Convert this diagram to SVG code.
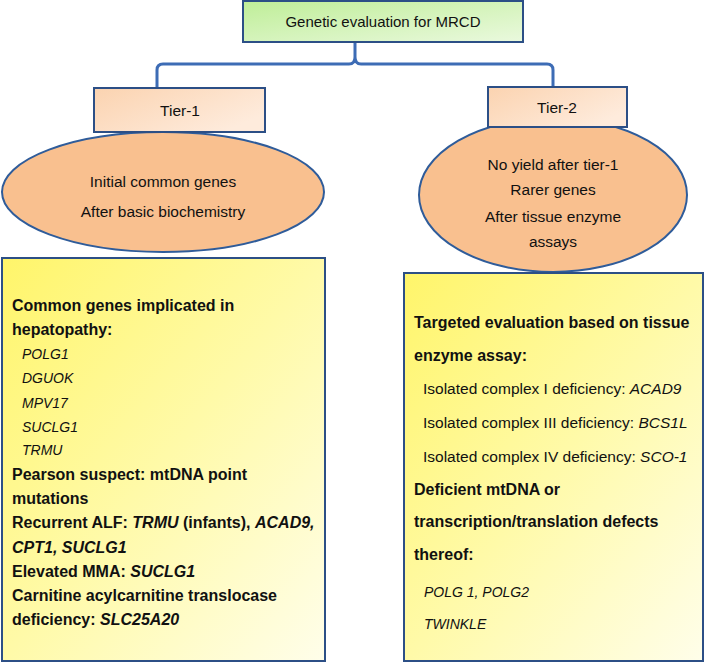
<svg xmlns="http://www.w3.org/2000/svg" width="708" height="664" viewBox="0 0 708 664">
<defs>
<linearGradient id="gGreen" x1="0" y1="0" x2="1" y2="1"><stop offset="0" stop-color="#bfee98"/><stop offset="1" stop-color="#eaf9de"/></linearGradient>
<linearGradient id="gPeach" x1="0" y1="0" x2="1" y2="0.6"><stop offset="0" stop-color="#fbd3b0"/><stop offset="1" stop-color="#feebdc"/></linearGradient>
<linearGradient id="gYellow" x1="0" y1="0" x2="1" y2="1"><stop offset="0" stop-color="#fff56a"/><stop offset="0.5" stop-color="#fffaa8"/><stop offset="1" stop-color="#fffeea"/></linearGradient>
<style>
.box{stroke:#2c4f86;stroke-width:2}
.ell{fill:#f9c08f;stroke:#2f5c9a;stroke-width:2}
.t{font-family:"Liberation Sans",Arial,sans-serif;font-size:15.5px;fill:#111}
.c{text-anchor:middle}
.b{font-family:"Liberation Sans",Arial,sans-serif;font-size:16px;font-weight:bold;fill:#111}
.i{font-style:italic}
.gi{font-family:"Liberation Sans",Arial,sans-serif;font-size:14px;font-style:italic;fill:#111}
.conn{fill:none;stroke:#3d6cb5;stroke-width:3;stroke-linejoin:round}
</style>
</defs>
<g id="connectors">
<path class="conn" d="M157,88 V70 Q157,64 163,64 H349 Q355,64 355,57 Q355,64 361,64 H547 Q553,64 553,70 V88 M355,57 V42"/>
</g>
<g id="root">
<rect class="box" x="243" y="1" width="280" height="41" fill="url(#gGreen)"/>
<text class="t c" x="383" y="27" style="font-size:15px">Genetic evaluation for MRCD</text>
</g>
<g id="tier1">
<ellipse class="ell" cx="163" cy="192" rx="161" ry="60"/>
<rect class="box" x="94" y="88" width="171" height="44" fill="url(#gPeach)"/>
<text class="t c" x="180" y="116">Tier-1</text>
<text class="t c" x="163" y="187">Initial common genes</text>
<text class="t c" x="163" y="217">After basic biochemistry</text>
</g>
<g id="tier2">
<ellipse class="ell" cx="553" cy="195" rx="134" ry="77"/>
<rect class="box" x="488" y="87" width="139" height="40" fill="url(#gPeach)"/>
<text class="t c" x="557" y="113">Tier-2</text>
<text class="t c" x="553" y="170">No yield after tier-1</text>
<text class="t c" x="553" y="195">Rarer genes</text>
<text class="t c" x="553" y="222">After tissue enzyme</text>
<text class="t c" x="553" y="247">assays</text>
</g>
<g id="tier1-details">
<rect class="box" x="2" y="258" width="323" height="403" fill="url(#gYellow)"/>
<text class="b" x="12" y="311">Common genes implicated in</text>
<text class="b" x="12" y="335">hepatopathy:</text>
<text class="gi" x="22" y="359">POLG1</text>
<text class="gi" x="22" y="383">DGUOK</text>
<text class="gi" x="22" y="408">MPV17</text>
<text class="gi" x="22" y="432">SUCLG1</text>
<text class="gi" x="22" y="455">TRMU</text>
<text class="b" x="12" y="480">Pearson suspect: mtDNA point</text>
<text class="b" x="12" y="504">mutations</text>
<text class="b" x="12" y="528">Recurrent ALF: <tspan class="i">TRMU</tspan> (infants), <tspan class="i">ACAD9,</tspan></text>
<text class="b i" x="12" y="553">CPT1, SUCLG1</text>
<text class="b" x="12" y="577">Elevated MMA: <tspan class="i">SUCLG1</tspan></text>
<text class="b" x="12" y="601">Carnitine acylcarnitine translocase</text>
<text class="b" x="12" y="625">deficiency: <tspan class="i">SLC25A20</tspan></text>
</g>
<g id="tier2-details">
<rect class="box" x="404" y="273" width="299" height="388" fill="url(#gYellow)"/>
<text class="b" x="414" y="328">Targeted evaluation based on tissue</text>
<text class="b" x="414" y="361">enzyme assay:</text>
<text class="t" x="423" y="394">Isolated complex I deficiency: <tspan class="i">ACAD9</tspan></text>
<text class="t" x="423" y="428">Isolated complex III deficiency: <tspan class="i">BCS1L</tspan></text>
<text class="t" x="423" y="462">Isolated complex IV deficiency: <tspan class="i">SCO-1</tspan></text>
<text class="b" x="414" y="495">Deficient mtDNA or</text>
<text class="b" x="414" y="527">transcription/translation defects</text>
<text class="b" x="414" y="560">thereof:</text>
<text class="gi" x="424" y="597">POLG 1, POLG2</text>
<text class="gi" x="424" y="629">TWINKLE</text>
</g>
</svg>
